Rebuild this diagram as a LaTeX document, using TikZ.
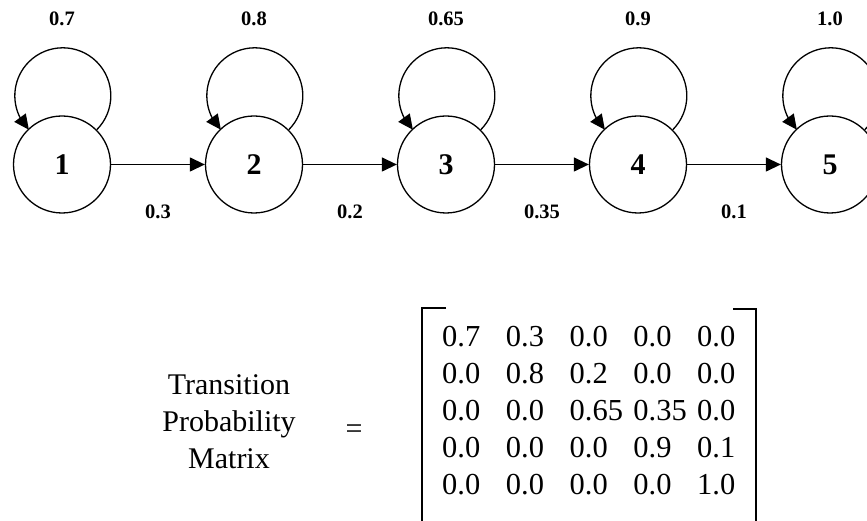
\documentclass[tikz,border=0pt]{standalone}
\usepackage{fontspec}
\setmainfont{Liberation Serif}
\usetikzlibrary{arrows.meta,bending}
\begin{document}
\begin{tikzpicture}[x=1pt,y=1pt,
  state/.style={circle,draw,line width=1.3pt,minimum size=97pt,inner sep=0pt,font=\fontsize{30}{36}\selectfont\bfseries},
  trans/.style={line width=1.3pt,-{Triangle[length=15pt,width=14pt]}},
  prob/.style={font=\fontsize{20.5}{24}\selectfont\bfseries,inner sep=0pt},
  cell/.style={anchor=base west,inner sep=0pt,font=\fontsize{30.5}{36}\selectfont},
  plain/.style={inner sep=0pt,font=\fontsize{30}{37}\selectfont},
  bracket/.style={line width=2pt}]
\useasboundingbox (0,0) rectangle (867,521);
% states
\foreach \i/\x in {1/62,2/254,3/446,4/638,5/830}
  \node[state] (n\i) at (\x,356.5) {\i};
% self loops
\foreach \i in {1,...,5}
  \draw[trans] (n\i.45) arc[start angle=-45,end angle=225,radius=48pt];
% forward transitions
\foreach \a/\b in {1/2,2/3,3/4,4/5}
  \draw[trans] (n\a) -- (n\b);
% loop labels
\foreach \i/\p in {1/0.7,2/0.8,3/0.65,4/0.9,5/1.0}
  \node[prob] (t\i) at ([yshift=145.5pt]n\i.center) {\p};
% transition labels
\foreach \i/\x/\p in {1/158/0.3,2/350/0.2,3/542/0.35,4/734/0.1}
  \node[prob] (b\i) at (\x,309.3) {\p};
% matrix label
\node[plain,align=center] (lbl) at (229,99.5) {Transition\\Probability\\Matrix};
\node[plain] (eq) at (354,89) {=};
% matrix entries
\foreach \row [count=\r] in {{0.7,0.3,0.0,0.0,0.0},{0.0,0.8,0.2,0.0,0.0},{0.0,0.0,0.65,0.35,0.0},{0.0,0.0,0.0,0.9,0.1},{0.0,0.0,0.0,0.0,1.0}}
  \foreach \v [count=\c] in \row
    \node[cell] (m\r\c) at ({442+(\c-1)*63.75},{174-(\r-1)*36.8}) {\v};
% brackets
\draw[bracket] (446,213) -- (422,213) -- (422,-2);
\draw[bracket] (733,212) -- (756,212) -- (756,-2);
\end{tikzpicture}
\end{document}
